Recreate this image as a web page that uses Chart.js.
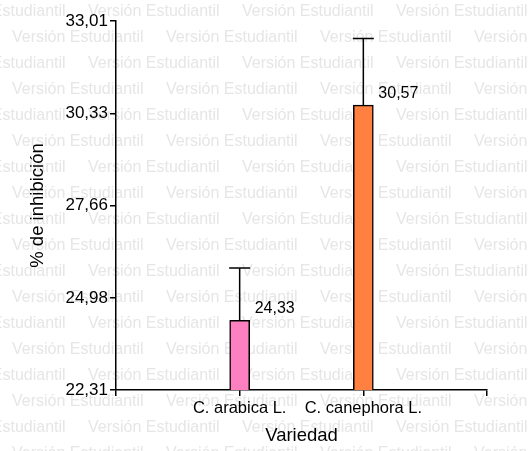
<!DOCTYPE html>
<html>
<head>
<meta charset="utf-8">
<script src="https://cdn.jsdelivr.net/npm/chart.js@4"></script>
<style>
  body { margin: 0; background: #fff; }
  #chart { display: block; }
</style>
</head>
<body>
<canvas id="chart" width="528" height="451"></canvas>
<script>
// data
const categories = ['C. arabica L.', 'C. canephora L.'];
const means = [24.33, 30.57];
const errUpper = [25.85, 32.50];
const barColors = ['#ff80c0', '#ff8040'];
const yTicks = [22.31, 24.98, 27.66, 30.33, 33.01];

const FONT = '"Liberation Sans", Arial, sans-serif';

// empty slots at both ends so the bars sit at 1/3 and 2/3 of the axis
const labels = ['', ...categories, ''];
const values = [null, ...means, null];
const colors = ['#fff', ...barColors, '#fff'];

const fmt = v => v.toFixed(2).replace('.', ',');

// "Versión Estudiantil" watermark behind everything
const watermark = {
    id: 'watermark',
    beforeDraw(chart) {
        const ctx = chart.ctx;
        ctx.save();
        ctx.fillStyle = '#fff';
        ctx.fillRect(0, 0, chart.width, chart.height);
        ctx.font = '16px ' + FONT;
        ctx.fillStyle = '#e6e6e6';
        ctx.textBaseline = 'middle';
        ctx.textAlign = 'left';
        for (let n = 0; n < 18; n++) {
            const y = 12 + n * 26;
            let x = (n % 2 === 0 ? 88 : 12) - 154;
            for (; x < chart.width; x += 154) {
                ctx.fillText('Versión Estudiantil', x, y);
            }
        }
        ctx.restore();
    }
};

// upper error whiskers and value labels
const errorBars = {
    id: 'errorBars',
    afterDatasetsDraw(chart) {
        const ctx = chart.ctx;
        const yScale = chart.scales.y;
        const meta = chart.getDatasetMeta(0);
        ctx.save();
        ctx.strokeStyle = '#000';
        ctx.lineWidth = 1.5;
        means.forEach((m, i) => {
            const bar = meta.data[i + 1];
            const x = bar.x;
            const top = yScale.getPixelForValue(m);
            const hi = yScale.getPixelForValue(errUpper[i]);
            ctx.beginPath();
            ctx.moveTo(x, top);
            ctx.lineTo(x, hi);
            ctx.moveTo(x - 10.5, hi);
            ctx.lineTo(x + 10.5, hi);
            ctx.stroke();

            ctx.fillStyle = '#000';
            ctx.font = '16px ' + FONT;
            ctx.textBaseline = 'middle';
            ctx.textAlign = 'left';
            ctx.fillText(fmt(m), x + 15, top - 12);
        });
        ctx.restore();
    }
};

new Chart(document.getElementById('chart'), {
    type: 'bar',
    data: {
        labels: labels,
        datasets: [{
            data: values,
            backgroundColor: colors,
            borderColor: '#000',
            borderWidth: 1.5,
            barThickness: 20
        }]
    },
    options: {
        responsive: false,
        animation: false,
        layout: { padding: { top: 21, right: 41, left: 0, bottom: 0 } },
        plugins: {
            legend: { display: false },
            tooltip: { enabled: false }
        },
        scales: {
            x: {
                offset: false,
                grid: {
                    offset: false,
                    drawOnChartArea: false,
                    tickLength: 6,
                    color: '#000',
                    lineWidth: 1.5
                },
                border: { color: '#000', width: 1.5 },
                ticks: {
                    color: '#000',
                    font: { family: FONT, size: 16.5 },
                    padding: 3,
                    maxRotation: 0,
                    autoSkip: false
                },
                title: {
                    display: true,
                    text: 'Variedad',
                    color: '#000',
                    font: { family: FONT, size: 18.5 },
                    padding: { top: 0, bottom: 4 }
                },
                afterFit(scale) { scale.height = 61; }
            },
            y: {
                min: yTicks[0],
                max: yTicks[yTicks.length - 1],
                afterBuildTicks(scale) {
                    scale.ticks = yTicks.map(v => ({ value: v }));
                },
                grid: {
                    drawOnChartArea: false,
                    tickLength: 6,
                    color: '#000',
                    lineWidth: 1.5
                },
                border: { color: '#000', width: 1.5 },
                ticks: {
                    color: '#000',
                    font: { family: FONT, size: 17 },
                    padding: 2,
                    callback: v => fmt(v)
                },
                title: {
                    display: true,
                    text: '% de inhibición',
                    color: '#000',
                    font: { family: FONT, size: 18.5 },
                    padding: { top: 27, bottom: 0 }
                },
                afterFit(scale) { scale.width = 116; }
            }
        }
    },
    plugins: [watermark, errorBars]
});
</script>
</body>
</html>
